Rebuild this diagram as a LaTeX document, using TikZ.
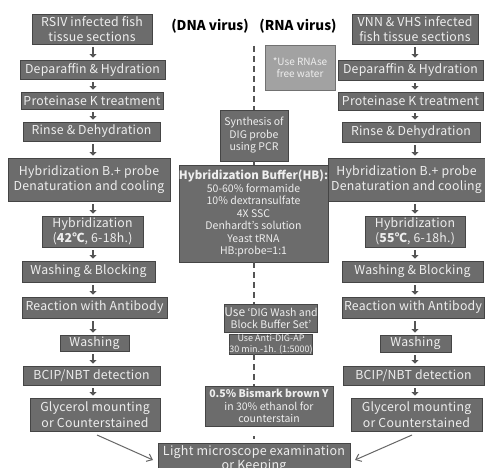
\documentclass[tikz,border=0pt]{standalone}
\usepackage{fontspec}
\setmainfont{Noto Sans CJK KR}
\usetikzlibrary{arrows.meta,calc}
\definecolor{boxfill}{HTML}{6C6C6C}
\definecolor{boxline}{HTML}{454545}
\definecolor{boxtext}{HTML}{EEEEEE}
\definecolor{lightfill}{HTML}{A2A2A2}
\definecolor{arrcol}{HTML}{555555}
\tikzset{
  box/.style={draw=boxline, line width=0.8pt, fill=boxfill, text=boxtext, align=center, inner sep=0pt,
    font=\fontsize{12.3}{15.5}\selectfont\addfontfeatures{LetterSpace=2}},
  cbox/.style={box, font=\fontsize{10.5}{12.5}\selectfont},
  lbox/.style={box, fill=lightfill, draw=lightfill!70!black, font=\fontsize{10}{12.5}\selectfont},
  stepar/.style={draw=arrcol, line width=2.6pt, -{Triangle[width=7pt,length=3.5pt]}, shorten <=3pt, shorten >=2pt},
  dashline/.style={draw=arrcol, line width=2pt, dash pattern=on 6pt off 4pt},
  diag/.style={draw=arrcol!90!white, line width=1pt, -{Straight Barb[length=5pt,width=8pt]}},
  title/.style={font=\fontsize{13.5}{15}\selectfont\bfseries, text=black, inner sep=0pt},
}
\begin{document}
\begin{tikzpicture}[x=1pt,y=-1pt]
\useasboundingbox (0,0) rectangle (485,468);
\clip (0,0) rectangle (485,468);
\fill[white] (0,0) rectangle (485,468);
% titles
\node[title] (dna) at (210,26) {(DNA virus)};
\node[title] (rna) at (298,26) {(RNA virus)};
% left column
\node[box, minimum width=120, minimum height=30] (L1) at (92,29) {RSIV infected fish\\tissue sections};
\node[box, minimum width=145, minimum height=19] (L2) at (92.5,69.5) {Deparaffin \& Hydration};
\node[box, minimum width=142, minimum height=17] (L3) at (92,100.5) {Proteinase K treatment};
\node[box, minimum width=137, minimum height=19] (L4) at (91.5,131.5) {Rinse \& Dehydration};
\node[box, minimum width=162, minimum height=43] (L5) at (89,179.5) {Hybridization B.+ probe\\Denaturation and cooling};
\node[box, minimum width=101, minimum height=31] (L6) at (92.5,231.5) {Hybridization\\(\textbf{42℃}, 6-18h.)};
\node[box, minimum width=133, minimum height=21] (L7) at (88.5,271.5) {Washing \& Blocking};
\node[box, minimum width=145, minimum height=21] (L8) at (94.5,307.5) {Reaction with Antibody};
\node[box, minimum width=69, minimum height=16] (L9) at (94.5,343) {Washing};
\node[box, minimum width=137, minimum height=19] (L10) at (91.5,375.5) {BCIP/NBT detection};
\node[box, minimum width=130, minimum height=33] (L11) at (95,414.5) {Glycerol mounting\\or Counterstained};
% right column
\node[box, minimum width=126, minimum height=30] (R1) at (415,29) {VNN \& VHS infected\\fish tissue sections};
\node[box, minimum width=145, minimum height=20] (R2) at (410.5,70) {Deparaffin \& Hydration};
\node[box, minimum width=145, minimum height=18] (R3) at (410.5,101) {Proteinase K treatment};
\node[box, minimum width=138, minimum height=20] (R4) at (411,132) {Rinse \& Dehydration};
\node[box, minimum width=157, minimum height=43] (R5) at (406.5,179.5) {Hybridization B.+ probe\\Denaturation and cooling};
\node[box, minimum width=100, minimum height=31] (R6) at (415,231.5) {Hybridization\\(\textbf{55℃}, 6-18h.)};
\node[box, minimum width=141, minimum height=21] (R7) at (412.5,271.5) {Washing \& Blocking};
\node[box, minimum width=142, minimum height=21] (R8) at (413,307.5) {Reaction with Antibody};
\node[box, minimum width=71, minimum height=17] (R9) at (415.5,343.5) {Washing};
\node[box, minimum width=141, minimum height=19] (R10) at (413.5,375.5) {BCIP/NBT detection};
\node[box, minimum width=131, minimum height=33] (R11) at (416.5,414.5) {Glycerol mounting\\or Counterstained};
% center column
\node[lbox, minimum width=70, minimum height=45] (RN) at (300,67.5) {*Use RNAse\\free water};
\node[cbox, minimum width=68, minimum height=51] (SY) at (254,135.5) {Synthesis of\\DIG probe\\using PCR};
\node[cbox, minimum width=137, minimum height=97] (HB) at (253.5,213.5) {{\fontsize{11.5}{13}\selectfont\bfseries Hybridization Buffer(HB):}\\50-60\% formamide\\10\% dextransulfate\\4X SSC\\Denhardt’s solution\\Yeast tRNA\\HB:probe=1:1};
\node[cbox, minimum width=70, minimum height=28] (DW) at (271,318) {{\fontsize{12}{13}\selectfont Use} ‘DIG Wash and\\Block Buffer Set’};
\node[cbox, minimum width=62, minimum height=20, font=\fontsize{9}{11}\selectfont] (AD) at (271,344) {Use Anti-DIG-AP\\30 min.-1h. (1:5000)};
\node[cbox, minimum width=128, minimum height=40] (BB) at (269,406) {\textbf{0.5\% Bismark brown Y}\\in 30\% ethanol for\\counterstain};
\node[box, minimum width=192, minimum height=32, font=\fontsize{12.5}{14}\selectfont\addfontfeatures{LetterSpace=2}, anchor=north] (LM) at (254,443) {Light microscope examination\\or Keeping};
% column arrows
\coordinate (xl) at (93,0);
\coordinate (xr) at (415,0);
\foreach \a/\b in {L1/L2,L2/L3,L3/L4,L4/L5,L5/L6,L6/L7,L7/L8,L8/L9,L9/L10,L10/L11}
  \draw[stepar] (\a.south -| xl) -- (\b.north -| xl);
\foreach \a/\b in {R1/R2,R2/R3,R3/R4,R4/R5,R5/R6,R6/R7,R7/R8,R8/R9,R9/R10,R10/R11}
  \draw[stepar] (\a.south -| xr) -- (\b.north -| xr);
% dashed center line
\coordinate (dtop) at (254,46);
\draw[dashline] (dtop) -- (SY.north -| dtop);
\draw[dashline] (SY.south -| dtop) -- (HB.north -| dtop);
\draw[dashline] (HB.south -| dtop) -- (DW.north -| dtop);
\draw[dashline] (AD.south -| dtop) -- (BB.north -| dtop);
\draw[draw=arrcol, line width=2pt] ($(BB.south -| dtop)+(0,10)$) -- ++(0,3);
% diagonal arrows
\coordinate (d1s) at (97,435);
\coordinate (d1e) at (153,460);
\coordinate (d2s) at (412,435);
\coordinate (d2e) at (355,460);
\draw[diag] (d1s) -- (d1e);
\draw[diag] (d2s) -- (d2e);
\end{tikzpicture}
\end{document}
